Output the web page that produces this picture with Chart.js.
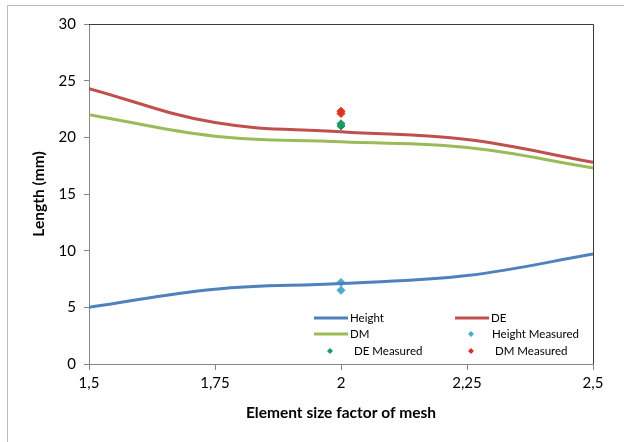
<!DOCTYPE html>
<html>
<head>
<meta charset="utf-8">
<script src="https://cdn.jsdelivr.net/npm/chart.js@4.4.0/dist/chart.umd.min.js"></script>
<style>
  html, body { margin: 0; padding: 0; background: #fff; }
  #wrap { position: relative; width: 624px; height: 442px; }
  #frame { position: absolute; left: 7px; top: 5px; right: 0; bottom: 0;
           border-left: 1px solid #bdbdbd; border-top: 1px solid #bdbdbd; pointer-events: none; }
</style>
</head>
<body>
<div id="wrap">
  <canvas id="chart" width="624" height="442"></canvas>
  <div id="frame"></div>
</div>
<script>
// mesh factors along x
const xValues = [1.5, 1.75, 2, 2.25, 2.5];
const xTickLabels = ['1,5', '1,75', '2', '2,25', '2,5'];
const yTicks = [0, 5, 10, 15, 20, 25, 30];

// simulated lengths (mm)
const heightValues = [5.0, 6.6, 7.1, 7.8, 9.7];
const deValues = [24.3, 21.3, 20.5, 19.8, 17.8];
const dmValues = [22.0, 20.1, 19.6, 19.1, 17.3];

// measured lengths, all taken at factor 2
const measuredX = 2;
const heightMeasured = [7.2, 6.5];
const deMeasured = [21.2, 21.0];
const dmMeasured = [22.3, 22.1];

const FONT = 'Lato, "Open Sans", sans-serif';

const toPoints = (ys) => ys.map((y, i) => ({ x: xValues[i], y: y }));
const toMeasured = (ys) => ys.map(y => ({ x: measuredX, y: y }));

// legend drawn inside plot area, 2 columns like the original
const legendInArea = {
    id: 'legendInArea',
    afterDraw(chart) {
        const ctx = chart.ctx;
        const area = chart.chartArea;
        const ds = chart.data.datasets;
        const cols = [area.left + 225, area.left + 366];
        const rows = [area.bottom - 46, area.bottom - 30, area.bottom - 13];
        ctx.save();
        ctx.font = '11.5px ' + FONT;
        ctx.textBaseline = 'middle';
        ds.forEach((d, k) => {
            const x = cols[k % 2];
            const y = rows[Math.floor(k / 2)];
            if (d.showLine === false) {
                ctx.fillStyle = d.pointBackgroundColor;
                ctx.beginPath();
                ctx.moveTo(x + 16, y - 3);
                ctx.lineTo(x + 19, y);
                ctx.lineTo(x + 16, y + 3);
                ctx.lineTo(x + 13, y);
                ctx.closePath();
                ctx.fill();
                ctx.fillStyle = '#000';
                ctx.fillText(d.label, x + (k === 3 ? 37 : 40), y);
            } else {
                ctx.strokeStyle = d.borderColor;
                ctx.lineWidth = 3;
                ctx.beginPath();
                ctx.moveTo(x, y);
                ctx.lineTo(x + 34, y);
                ctx.stroke();
                ctx.fillStyle = '#000';
                ctx.fillText(d.label, x + 36, y);
            }
        });
        ctx.restore();
    }
};

// dark frame on top and right of plot area
const areaFrame = {
    id: 'areaFrame',
    afterDatasetsDraw(chart) {
        const a = chart.chartArea;
        const ctx = chart.ctx;
        ctx.save();
        ctx.strokeStyle = '#3a3a3a';
        ctx.lineWidth = 1;
        ctx.beginPath();
        ctx.moveTo(a.left, a.top + 0.5);
        ctx.lineTo(a.right + 0.5, a.top + 0.5);
        ctx.lineTo(a.right + 0.5, a.bottom);
        ctx.stroke();
        ctx.restore();
    }
};

const lineDs = (label, ys, color) => ({
    label: label,
    data: toPoints(ys),
    borderColor: color,
    backgroundColor: color,
    borderWidth: 3,
    tension: 0.4,
    pointRadius: 0,
    fill: false
});

const markDs = (label, ys, color) => ({
    label: label,
    data: toMeasured(ys),
    showLine: false,
    pointStyle: 'rectRot',
    pointRadius: 4,
    pointBackgroundColor: color,
    pointBorderColor: color,
    borderColor: color,
    backgroundColor: color
});

new Chart(document.getElementById('chart'), {
    type: 'line',
    data: {
        datasets: [
            lineDs('Height', heightValues, '#4f81bd'),
            lineDs('DE', deValues, '#c0504d'),
            lineDs('DM', dmValues, '#9bbb59'),
            markDs('Height Measured', heightMeasured, '#4bacc6'),
            markDs('DE Measured', deMeasured, '#1f9a5e'),
            markDs('DM Measured', dmMeasured, '#e0301e')
        ]
    },
    options: {
        responsive: false,
        animation: false,
        layout: { padding: { top: 24, right: 31, left: 30, bottom: 20 } },
        plugins: { legend: { display: false }, tooltip: { enabled: false } },
        scales: {
            x: {
                type: 'linear',
                min: 1.5,
                max: 2.5,
                afterBuildTicks: (axis) => { axis.ticks = xValues.map(v => ({ value: v })); },
                afterFit: (axis) => { axis.height = 58; },
                ticks: {
                    color: '#000',
                    font: { family: FONT, size: 15 },
                    padding: 4,
                    maxRotation: 0,
                    callback: (v) => xTickLabels[xValues.indexOf(v)]
                },
                grid: { drawOnChartArea: false, drawTicks: true, tickLength: 6, color: '#868686' },
                border: { display: true, color: '#868686' },
                title: {
                    display: true,
                    text: 'Element size factor of mesh',
                    color: '#000',
                    font: { family: FONT, size: 15.5, weight: 'bold' },
                    padding: { top: 0, bottom: 0 }
                }
            },
            y: {
                min: 0,
                max: 30,
                afterBuildTicks: (axis) => { axis.ticks = yTicks.map(v => ({ value: v })); },
                afterFit: (axis) => { axis.width = 59; },
                ticks: {
                    color: '#000',
                    font: { family: FONT, size: 15 },
                    padding: 8
                },
                grid: { drawOnChartArea: false, drawTicks: true, tickLength: 5, color: '#868686' },
                border: { display: true, color: '#868686' },
                title: {
                    display: true,
                    text: 'Length (mm)',
                    color: '#000',
                    font: { family: FONT, size: 15.5, weight: 'bold' },
                    padding: { top: 0, bottom: 0 }
                }
            }
        }
    },
    plugins: [areaFrame, legendInArea]
});
</script>
</body>
</html>
